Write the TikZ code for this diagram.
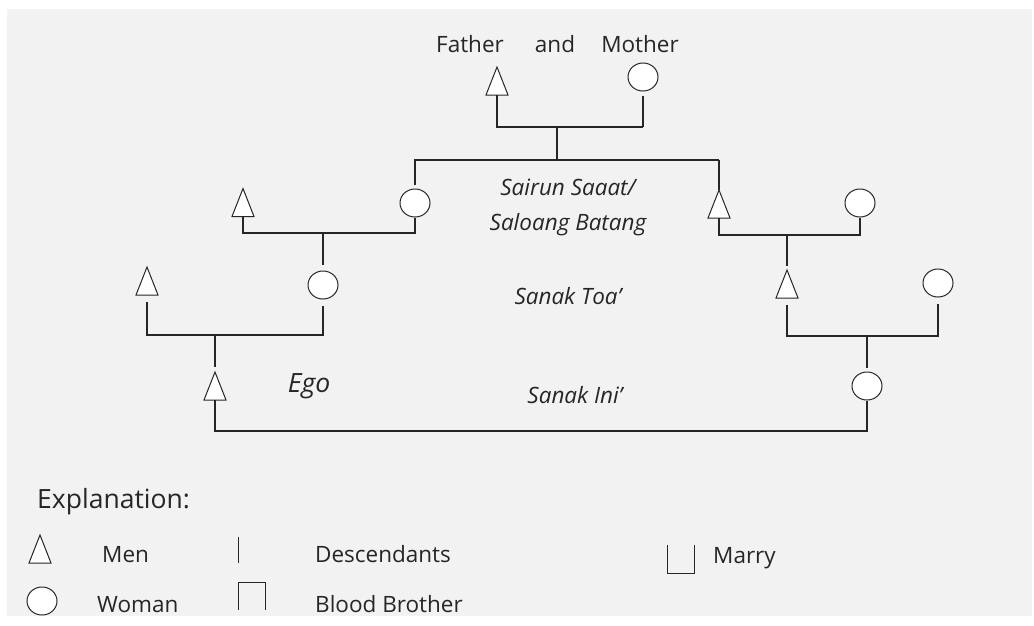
\documentclass[tikz,border=0pt]{standalone}
\usepackage{fontspec}
\setmainfont{Open Sans}
\usetikzlibrary{shapes.geometric}

\definecolor{panel}{HTML}{F2F2F2}
\definecolor{ink}{HTML}{262626}

\tikzset{
  link/.style={draw=ink, line width=1.3pt},
  keyline/.style={draw=ink, line width=1pt},
  woman/.style={ellipse, draw=ink, line width=1pt, fill=white,
    minimum width=30pt, minimum height=28pt, inner sep=0pt},
  man/.pic={
    \draw[ink, line width=1pt, fill=white] (-11,14) -- (0,-14) -- (11,14) -- cycle;
    \coordinate (-top) at (0,-14);
    \coordinate (-bot) at (0,14);
  },
  lbl/.style={font=\fontsize{22.5}{26}\selectfont, text=ink, inner sep=0pt, anchor=base},
  term/.style={font=\fontsize{22.5}{26}\selectfont\itshape, text=ink, inner sep=0pt, anchor=base},
  big/.style={font=\fontsize{26.5}{30}\selectfont, text=ink, inner sep=0pt, anchor=base west},
  key/.style={font=\fontsize{22.5}{26}\selectfont, text=ink, inner sep=0pt, anchor=base west},
}

\begin{document}
\begin{tikzpicture}[x=1pt, y=-1pt]
  % page and panel
  \fill[white] (0,0) rectangle (1034,625);
  \fill[panel] (7,9) rectangle (1032,616);
  \useasboundingbox (0,0) rectangle (1034,625);

  % ---------- parents ----------
  \node[lbl] (tf) at (470,52) {Father};
  \node[lbl] (ta) at (555,52) {and};
  \node[lbl] (tm) at (640,52) {Mother};
  \pic (F) at (497,81) {man};
  \node[woman] (M) at (643,77) {};

  \coordinate (p1) at (497,127);
  \coordinate (p2) at (643,127);
  \coordinate (c1) at (557,127);
  \coordinate (c1b) at (557,160);
  \coordinate (s1L) at (415,160);
  \coordinate (s1R) at (719,160);
  \draw[link] (F-bot) -- (p1) -- (p2);
  \draw[link, shorten <=4pt] (M.south) -- (p2);
  \draw[link] (c1) -- (c1b);

  % ---------- second generation ----------
  \node[woman] (W1) at (415,203) {};
  \pic (H1) at (243,202.5) {man};
  \pic (S2) at (719,204) {man};
  \node[woman] (W2) at (860,203) {};
  \draw[link, shorten >=4pt] (s1R) -- (s1L) -- (W1.north);
  \draw[link] (s1R) -- (S2-top);

  \coordinate (m2a) at (243,233);
  \coordinate (m2b) at (415,233);
  \coordinate (c2) at (323,233);
  \draw[link] (H1-bot) -- (m2a) -- (m2b) -- (W1.south);

  \coordinate (m5a) at (719,235);
  \coordinate (m5b) at (860,235);
  \coordinate (c5) at (787,235);
  \draw[link] (S2-bot) -- (m5a) -- (m5b) -- (W2.south);

  % ---------- third generation ----------
  \node[woman] (W3) at (323,285) {};
  \pic (H3) at (147,281) {man};
  \pic (S3) at (787,284) {man};
  \node[woman] (W4) at (938,283) {};
  \draw[link, shorten >=6pt] (c2) -- (W3.north);
  \draw[link, shorten >=4pt] (c5) -- (S3-top);

  \coordinate (m3a) at (147,335);
  \coordinate (m3b) at (323,335);
  \coordinate (c3) at (215,335);
  \draw[link, shorten <=7pt, shorten >=6pt] (H3-bot) -- (m3a) -- (m3b) -- (W3.south);

  \coordinate (m4a) at (787,336);
  \coordinate (m4b) at (938,336);
  \coordinate (c4) at (867,336);
  \draw[link, shorten <=7pt, shorten >=6pt] (S3-bot) -- (m4a) -- (m4b) -- (W4.south);

  % ---------- ego and cousin ----------
  \pic (E) at (215,386) {man};
  \node[woman] (W5) at (867,386) {};
  \draw[link, shorten >=5pt] (c3) -- (E-top);
  \draw[link, shorten >=4pt] (c4) -- (W5.north);
  \coordinate (b1) at (215,431);
  \coordinate (b2) at (867,431);
  \draw[link] (E-bot) -- (b1) -- (b2) -- (W5.south);

  % ---------- kinship terms ----------
  \node[term] (k1) at (568,195) {Sairun Saaat/};
  \node[term] (k2) at (568,230) {Saloang Batang};
  \node[term] (k3) at (568,304) {Sanak Toa’};
  \node[term] (k4) at (575,403) {Sanak Ini’};
  \node[font=\fontsize{26.5}{30}\selectfont\itshape, text=ink, inner sep=0pt, anchor=base] (ego) at (309,392) {Ego};

  % ---------- legend ----------
  \node[big] (expl) at (37,508) {Explanation:};
  \pic (lm) at (40,549) {man};
  \node[key] (tmen) at (102,562) {Men};
  \draw[keyline] (238,537) -- (238,563);
  \node[key] (tdesc) at (315,562) {Descendants};
  \draw[keyline] (667,545) -- (667,573) -- (694,573) -- (694,545);
  \node[key] (tmarry) at (713,563) {Marry};

  \node[woman] (lw) at (42,601) {};
  \node[key] (twoman) at (97,612) {Woman};
  \draw[keyline] (238,610) -- (238,582) -- (265,582) -- (265,610);
  \node[key] (tblood) at (315,612) {Blood Brother};
\end{tikzpicture}
\end{document}
